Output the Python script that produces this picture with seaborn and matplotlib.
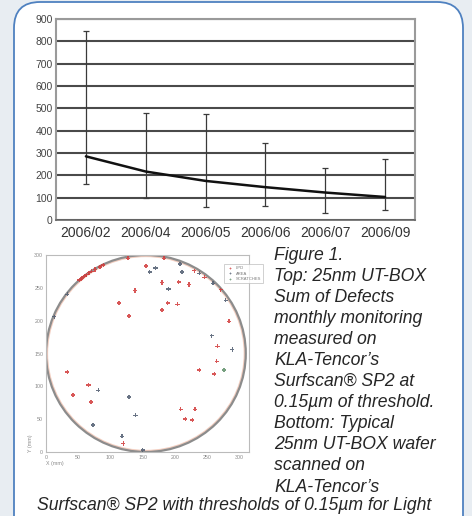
import numpy as np
import pandas as pd
import matplotlib
matplotlib.use("Agg")
import matplotlib.pyplot as plt
import seaborn as sns
from matplotlib.patches import FancyBboxPatch, Ellipse

# ---------------- data ----------------
months = ["2006/02", "2006/04", "2006/05", "2006/06", "2006/07", "2006/09"]
trend = [285, 217, 175, 147, 123, 103]
err_low = [162, 100, 57, 62, 30, 43]
err_high = [845, 478, 474, 344, 232, 275]
y_ticks = [0, 100, 200, 300, 400, 500, 600, 700, 800, 900]

lpd_x = [113, 129, 138, 155, 183, 127, 180, 180, 189, 204, 206, 222, 284, 266, 265, 261, 238,
         33, 66, 42, 70, 120, 209, 216, 227, 231, 52, 56, 60, 63, 67, 71, 76, 84, 89, 230, 246, 271]
lpd_y = [227, 207, 246, 283, 295, 295, 258, 216, 227, 225, 259, 255, 199, 161, 138, 119, 125,
         122, 102, 87, 76, 13, 65, 50, 49, 65, 262, 265, 268, 270, 273, 275, 278, 282, 285, 276, 266, 247]
area_x = [13, 33, 161, 170, 190, 211, 208, 289, 257, 81, 73, 129, 139, 118, 238, 259, 279, 150]
area_y = [206, 240, 274, 280, 248, 274, 286, 156, 177, 94, 41, 84, 56, 24, 272, 257, 231, 3]
scratch_x = [276]
scratch_y = [125]
wafer_ticks = [0, 50, 100, 150, 200, 250, 300]

caption_lines = [
    "Figure 1.",
    "Top: 25nm UT-BOX",
    "Sum of Defects",
    "monthly monitoring",
    "measured on",
    "KLA-Tencor\u2019s",
    "Surfscan\u00ae SP2 at",
    "0.15\u00b5m of threshold.",
    "Bottom: Typical",
    "25nm UT-BOX wafer",
    "scanned on",
    "KLA-Tencor\u2019s",
]
caption_last = "Surfscan\u00ae SP2 with thresholds of 0.15\u00b5m for Light"

# ---------------- figure ----------------
sns.set_theme(style="white")
plt.rcParams["font.family"] = ["Liberation Sans", "DejaVu Sans"]

W, H = 472, 516
bg = "#e8edf2"
fig = plt.figure(figsize=(W / 100, H / 100), dpi=100, facecolor=bg)

# background / panel
axbg = fig.add_axes([0, 0, 1, 1])
axbg.set_xlim(0, W)
axbg.set_ylim(H, 0)
axbg.axis("off")
axbg.set_zorder(-1)
panel = FancyBboxPatch((14, 2), 449, 600, boxstyle="round,pad=0,rounding_size=26",
                       facecolor="white", edgecolor="#4f81c0", linewidth=1.3)
axbg.add_patch(panel)

# caption text
for i, line in enumerate(caption_lines):
    axbg.text(274, 255 + 21.1 * i, line, fontsize=12.7, style="italic",
              color="#262626", va="center", ha="left")
axbg.text(234, 505, caption_last, fontsize=12.7, style="italic",
          color="#262626", va="center", ha="center")

# ---------------- top chart ----------------
ax = fig.add_axes([56 / W, 1 - 220 / H, 359 / W, 201 / H])
ax.set_facecolor("white")
df = pd.DataFrame({"month": months, "trend": trend})
yerr = [np.array(trend) - np.array(err_low), np.array(err_high) - np.array(trend)]
ax.errorbar(months, trend, yerr=yerr, fmt="none", ecolor="#3a3a3a",
            elinewidth=0.9, capsize=2.5, capthick=0.9, zorder=3)
sns.lineplot(data=df, x="month", y="trend", sort=False, color="#111111",
             linewidth=1.8, ax=ax, zorder=4)
ax.set_xlim(-0.5, 5.5)
ax.set_ylim(0, 900)
ax.set_yticks(y_ticks)
ax.set_yticklabels([str(v) for v in y_ticks])
ax.set_xlabel("")
ax.set_ylabel("")
for v in y_ticks[1:]:
    ax.axhline(v, color="#4a4a4a", linewidth=1.5, zorder=1)
ax.axhline(0, color="#555555", linewidth=1.5, zorder=1)
for side in ["left", "right", "top"]:
    ax.spines[side].set_color("#9a9a9a")
    ax.spines[side].set_linewidth(1.5)
ax.spines["bottom"].set_color("#666666")
ax.spines["bottom"].set_linewidth(1.2)
ax.tick_params(axis="y", length=0, pad=2.5, labelsize=7.5, labelcolor="#444444")
ax.tick_params(axis="x", length=0, pad=4, labelsize=10, labelcolor="#333333")
ax.set_xticks([0.5, 1.5, 2.5, 3.5, 4.5], minor=True)
ax.tick_params(axis="x", which="minor", length=2, width=0.8, color="#888888", direction="out")
ax.grid(False)

# ---------------- wafer map ----------------
aw = fig.add_axes([46 / W, 1 - 452 / H, 203 / W, 197 / H])
aw.set_facecolor("white")
aw.set_xlim(0, 315)
aw.set_ylim(0, 300)
aw.add_patch(Ellipse((155, 150), 306, 296, fill=False, edgecolor="#f2cdbf", linewidth=1.2, zorder=1))
aw.add_patch(Ellipse((155, 150), 310, 300, fill=False, edgecolor="#8c8c8c", linewidth=1.6, zorder=2))

wdf = pd.DataFrame({
    "x": lpd_x + area_x + scratch_x,
    "y": lpd_y + area_y + scratch_y,
    "type": ["LPD"] * len(lpd_x) + ["AREA"] * len(area_x) + ["SCRATCHES"] * len(scratch_x),
})
sns.scatterplot(data=wdf, x="x", y="y", hue="type",
                palette={"LPD": "#d23a3a", "AREA": "#4e5a6e", "SCRATCHES": "#5f8f6a"},
                marker="P", s=9, linewidth=0, alpha=0.85, ax=aw, zorder=3)
aw.set_xticks(wafer_ticks)
aw.set_yticks(wafer_ticks)
aw.tick_params(length=0, pad=2, labelsize=3.8, labelcolor="#888888")
aw.set_xlabel("X (mm)", loc="left", fontsize=3.8, color="#888888", labelpad=1)
aw.set_ylabel("Y (mm)", loc="bottom", fontsize=3.8, color="#888888", labelpad=1)
for s in aw.spines.values():
    s.set_color("#bbbbbb")
    s.set_linewidth(0.8)
leg = aw.legend(loc="upper right", bbox_to_anchor=(1.08, 0.965), fontsize=3,
                frameon=True, markerscale=0.5, handletextpad=0.3, borderpad=0.5,
                labelspacing=0.4, fancybox=False)
leg.get_frame().set_edgecolor("#bbbbbb")
leg.get_frame().set_linewidth(0.6)
for t in leg.get_texts():
    t.set_color("#777777")

fig.savefig("out.png", dpi=100, facecolor=bg)
